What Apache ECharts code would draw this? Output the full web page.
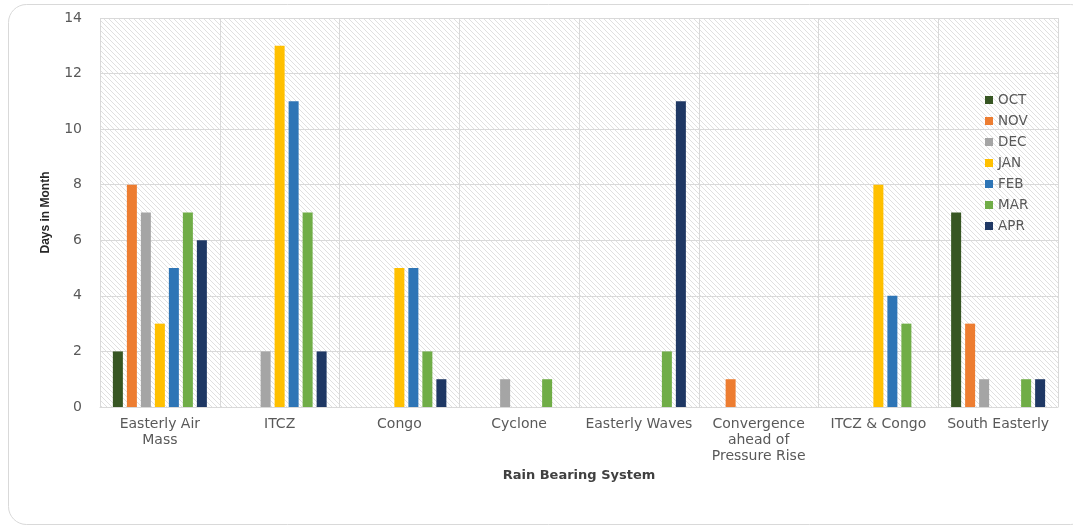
<!DOCTYPE html>
<html>
<head>
<meta charset="utf-8">
<script src="https://cdn.jsdelivr.net/npm/echarts@6/dist/echarts.min.js"></script>
<style>
  html, body { margin: 0; padding: 0; background: #ffffff; }
  #chart { width: 1073px; height: 528px; }
</style>
</head>
<body>
<div id="chart"></div>
<script>
// Rain bearing systems and the number of days each was active per month
const systems = [
  'Easterly Air\nMass', 'ITCZ', 'Congo', 'Cyclone', 'Easterly Waves',
  'Convergence\nahead of\nPressure Rise', 'ITCZ & Congo', 'South Easterly'
];
const months = ['OCT', 'NOV', 'DEC', 'JAN', 'FEB', 'MAR', 'APR'];

const oct = [2, 0, 0, 0, 0, 0, 0, 7];
const nov = [8, 0, 0, 0, 0, 1, 0, 3];
const dec = [7, 2, 0, 1, 0, 0, 0, 1];
const jan = [3, 13, 5, 0, 0, 0, 8, 0];
const feb = [5, 11, 5, 0, 0, 0, 4, 0];
const mar = [7, 7, 2, 1, 2, 0, 3, 1];
const apr = [6, 2, 1, 0, 11, 0, 0, 1];

const monthValues = [oct, nov, dec, jan, feb, mar, apr];
const monthColors = ['#375623', '#ED7D31', '#A5A5A5', '#FFC000', '#2E75B6', '#70AD47', '#1F3864'];

const labelFont = 'DejaVu Sans';

// Light diagonal hatch used as the plot background
function hatchPattern() {
  const s = 5;
  const c = document.createElement('canvas');
  c.width = s; c.height = s;
  const g = c.getContext('2d');
  g.fillStyle = '#ffffff';
  g.fillRect(0, 0, s, s);
  g.strokeStyle = '#e0e0e0';
  g.lineWidth = 1;
  g.beginPath();
  g.moveTo(-1, -1); g.lineTo(s + 1, s + 1);
  g.moveTo(-1, s - 1); g.lineTo(1, s + 1);
  g.moveTo(s - 1, -1); g.lineTo(s + 1, 1);
  g.stroke();
  return { image: c, repeat: 'repeat' };
}

const chart = echarts.init(document.getElementById('chart'), null, { renderer: 'canvas' });

const series = months.map((m, i) => ({
  name: m,
  type: 'bar',
  data: monthValues[i],
  barWidth: 10,
  barGap: '40%',
  itemStyle: { color: monthColors[i] }
}));

chart.setOption({
  animation: false,
  backgroundColor: '#ffffff',
  graphic: [{
    type: 'rect',
    shape: { x: 8.5, y: 4.5, width: 1080, height: 520, r: 18 },
    style: { fill: 'none', stroke: '#d9d9d9', lineWidth: 1 },
    silent: true,
    z: -10
  }],
  grid: {
    left: 100, right: 15, top: 18, bottom: 121,
    show: true,
    backgroundColor: hatchPattern(),
    borderWidth: 0
  },
  legend: {
    orient: 'vertical',
    left: 980, top: 88,
    itemWidth: 8, itemHeight: 8,
    itemGap: 7,
    icon: 'rect',
    textStyle: { color: '#595959', fontSize: 13.5, fontFamily: labelFont },
    data: months
  },
  xAxis: {
    type: 'category',
    data: systems,
    name: 'Rain Bearing System',
    nameLocation: 'middle',
    nameGap: 62,
    nameTextStyle: { color: '#404040', fontSize: 13, fontWeight: 'bold', fontFamily: labelFont },
    axisLine: { show: true, lineStyle: { color: '#d9d9d9', width: 1 } },
    axisTick: { show: false },
    axisLabel: {
      color: '#595959', fontSize: 14, fontFamily: labelFont,
      margin: 9, lineHeight: 16, interval: 0
    },
    splitLine: { show: true, interval: 0, lineStyle: { color: '#d9d9d9', width: 1 } }
  },
  yAxis: {
    type: 'value',
    min: 0, max: 14, interval: 2,
    name: 'Days in Month',
    nameLocation: 'middle',
    nameGap: 48,
    nameRotate: 90,
    nameTextStyle: { color: '#262626', fontSize: 12, fontWeight: 'bold', fontFamily: 'Liberation Sans Narrow, Liberation Sans' },
    axisLine: { show: false },
    axisTick: { show: false },
    axisLabel: { color: '#595959', fontSize: 14, fontFamily: labelFont, margin: 18 },
    splitLine: { show: true, lineStyle: { color: '#d9d9d9', width: 1 } }
  },
  series: series
});
</script>
</body>
</html>
